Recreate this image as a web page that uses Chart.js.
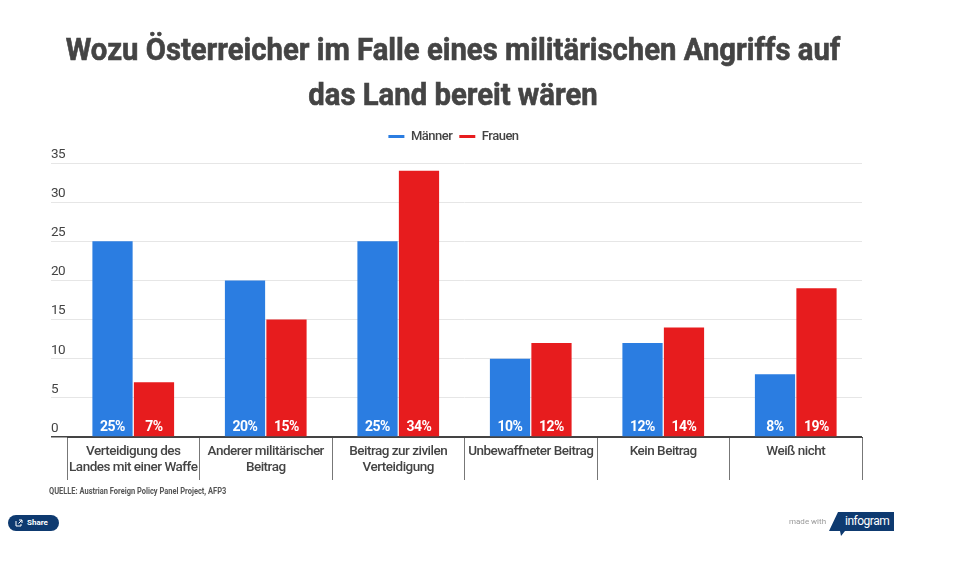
<!DOCTYPE html>
<html lang="de">
<head>
<meta charset="utf-8">
<title>Wozu Österreicher bereit wären</title>
<script src="https://cdn.jsdelivr.net/npm/chart.js@4"></script>
<style>
    html, body { margin: 0; padding: 0; background: #fff; }
    body { width: 969px; height: 569px; position: relative; overflow: hidden; font-family: Roboto, sans-serif; }
    #wrap { position: absolute; left: 0; top: 0; width: 969px; height: 569px; }
    h1 { position: absolute; left: 0; top: 27px; width: 906px; margin: 0; text-align: center; font-size: 31px; line-height: 45px; font-weight: 700; color: #444; transform: scaleX(0.944); transform-origin: 453px 0; -webkit-text-stroke: 0.6px #444; }
    #source { position: absolute; left: 49px; top: 486px; font-size: 9px; line-height: 11px; font-weight: 700; color: #555; white-space: nowrap; transform: scaleX(0.83); transform-origin: 0 0; }
    #share { position: absolute; left: 8px; top: 515px; width: 51px; height: 16px; border-radius: 8px; background: #0e3a70; color: #fff; font: 700 8px/16px Roboto, sans-serif; text-indent: 19px; }
    #share svg { position: absolute; left: 7px; top: 4px; }
    #made { position: absolute; left: 789px; top: 517px; font: 8px/10px Roboto, sans-serif; color: #999; }
    #logo { position: absolute; left: 829px; top: 512px; width: 65px; height: 25px; background: #0e3a70; color: #fff; font-size: 12px; line-height: 19px; letter-spacing: -0.5px; text-indent: 16px; clip-path: polygon(9px 0, 65px 0, 65px 19px, 16px 19px, 12px 24px, 11px 19px, 0 19px); }
</style>
</head>
<body>
<div id="wrap"><canvas id="chart" width="969" height="569"></canvas></div>
<h1>Wozu Österreicher im Falle eines militärischen Angriffs auf<br>das Land bereit wären</h1>
<div id="source">QUELLE: Austrian Foreign Policy Panel Project, AFP3</div>
<div id="share"><svg width="8" height="8" viewBox="0 0 8 8"><path d="M1 2v5h5V5M4 1h3v3M7 1L3.5 4.5" fill="none" stroke="#fff" stroke-width="1"/></svg>Share</div>
<div id="made">made with</div>
<div id="logo">infogram</div>
<script>
// ── Data ────────────────────────────────────
const categories = [
    ['Verteidigung des', 'Landes mit einer Waffe'],
    ['Anderer militärischer', 'Beitrag'],
    ['Beitrag zur zivilen', 'Verteidigung'],
    ['Unbewaffneter Beitrag'],
    ['Kein Beitrag'],
    ['Weiß nicht'],
];
const maenner = [25, 20, 25, 10, 12, 8];
const frauen = [7, 15, 34, 12, 14, 19];

const BLUE = '#2b7de1';
const RED = '#e71c1e';
const TEXT = '#444';
const FONT = 'Roboto, sans-serif';

// The original type is condensed, tighten all canvas text
const tightText = {
    id: 'tightText',
    beforeInit(chart) {
        chart.ctx.letterSpacing = '-0.5px';
        // extra room under the legend
        const fit = chart.legend.fit;
        chart.legend.fit = function () {
            fit.call(this);
            this.height += 10;
        };
    },
    beforeDraw(chart) {
        chart.ctx.letterSpacing = '-0.5px';
    },
};

// White percentage labels at the foot of each bar
const barLabels = {
    id: 'barLabels',
    afterDatasetsDraw(chart) {
        const { ctx } = chart;
        ctx.save();
        ctx.fillStyle = '#fff';
        ctx.font = `700 14px ${FONT}`;
        ctx.textAlign = 'center';
        ctx.textBaseline = 'middle';
        chart.data.datasets.forEach((ds, i) => {
            chart.getDatasetMeta(i).data.forEach((bar, j) => {
                ctx.fillText(ds.data[j] + '%', bar.x, chart.scales.y.bottom - 10);
            });
        });
        ctx.restore();
    },
};

new Chart(document.getElementById('chart'), {
    type: 'bar',
    data: {
        labels: categories,
        datasets: [
            { label: 'Männer', data: maenner, backgroundColor: BLUE, categoryPercentage: 0.626, barPercentage: 0.97 },
            { label: 'Frauen', data: frauen, backgroundColor: RED, categoryPercentage: 0.626, barPercentage: 0.97 },
        ],
    },
    options: {
        responsive: false,
        animation: false,
        layout: { padding: { left: 51, right: 107, top: 123, bottom: 89 } },
        plugins: {
            tooltip: { enabled: false },
            legend: {
                labels: {
                    color: TEXT,
                    font: { family: FONT, size: 13, weight: '500' },
                    boxWidth: 16,
                    boxHeight: 3,
                    padding: 7,
                },
            },
        },
        scales: {
            x: {
                afterFit(scale) { scale.height = 43; },
                grid: { drawOnChartArea: false, tickLength: 43, tickColor: '#777', tickWidth: 1 },
                border: { color: '#444', width: 1 },
                ticks: { color: TEXT, font: { family: FONT, size: 13.5, weight: '500', lineHeight: 1.22 }, padding: -37, maxRotation: 0, autoSkip: false },
            },
            y: {
                min: 0,
                max: 35,
                afterFit(scale) { scale.width = 16; },
                grid: {
                    tickLength: 16,
                    color: ctx => (ctx.tick.value === 0 ? '#444' : '#e6e6e6'),
                    tickColor: ctx => (ctx.tick.value === 0 ? '#444' : '#e6e6e6'),
                    lineWidth: ctx => (ctx.tick.value === 0 ? 1.5 : 1),
                },
                border: { display: false },
                ticks: { stepSize: 5, color: TEXT, font: { family: FONT, size: 13.5 }, crossAlign: 'far', padding: 0, labelOffset: -8.5 },
            },
        },
    },
    plugins: [tightText, barLabels],
});
</script>
</body>
</html>
